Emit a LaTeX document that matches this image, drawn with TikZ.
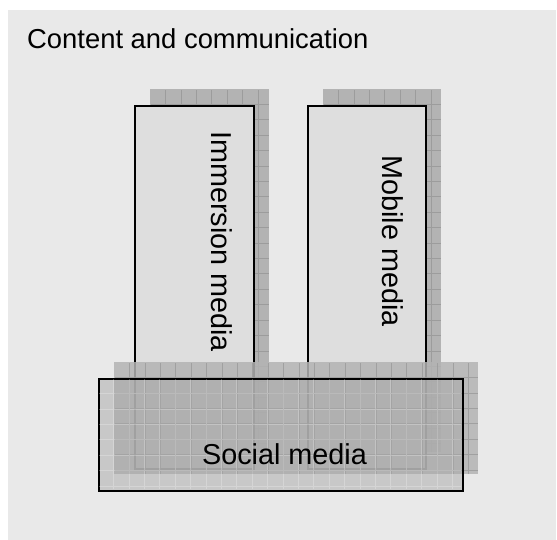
\documentclass[tikz,border=0pt]{standalone}
\usepackage{fontspec}
\setmainfont{Liberation Sans}
\usepackage{tikz}

\definecolor{bggray}{HTML}{E9E9E9}
\definecolor{boxgray}{HTML}{DEDEDE}
\definecolor{shadowgray}{HTML}{B3B3B3}
\definecolor{gridgray}{HTML}{9C9C9C}
\definecolor{socialgray}{HTML}{A8A8A8}

\tikzset{
  shadowbox/.style = {rectangle,
      fill = shadowgray,
      inner sep = 0pt,
      anchor = north west},
  shadowgrid/.style = {draw = gridgray,
      line width = 0.6pt},
  mediabox/.style = {rectangle,
      draw = black,
      line width = 2pt,
      fill = boxgray,
      inner sep = 0pt,
      anchor = north west},
  medialabel/.style = {inner sep = 0pt,
      font = \fontsize{28.8}{34}\selectfont},
}

\begin{document}
\begin{tikzpicture}[x=1pt, y=1pt]
\useasboundingbox (0,0) rectangle (557,-540);

% background
\node[rectangle,
    fill = bggray,
    inner sep = 0pt,
    anchor = north west,
    minimum width = 548,
    minimum height = 530] (bg) at (8,-10) {};

\node[anchor = base west,
    inner sep = 0pt,
    font = \fontsize{27.4}{33}\selectfont] (title) at (27,-49) {Content and communication};

% first column
\node[shadowbox,
    minimum width = 119,
    minimum height = 363] (immshadow) at (150,-89) {};
\draw[shadowgrid, shift={(150,-89)}] (1,-363) grid[step=15.4] (119,-1);

\node[mediabox,
    minimum width = 119,
    minimum height = 363] (immersion) at (134,-105) {};
\node[medialabel, rotate=-90] (immtext) at (221.5,-241.5) {Immersion media};

% second column
\node[shadowbox,
    minimum width = 118,
    minimum height = 363] (mobshadow) at (323,-89) {};
\draw[shadowgrid, shift={(323,-89)}] (1,-363) grid[step=15.4] (118,-1);

\node[mediabox,
    minimum width = 118,
    minimum height = 363] (mobile) at (307,-105) {};
\node[medialabel, rotate=-90] (mobtext) at (393,-241) {Mobile media};

% bottom bar
\node[shadowbox,
    opacity = 0.85,
    minimum width = 364,
    minimum height = 112] (socshadow) at (114,-362) {};
\draw[shadowgrid, opacity=0.85, shift={(114,-362)}] (1,-112) grid[step=15.4] (364,-1);

\node[rectangle,
    draw = black,
    line width = 2pt,
    fill = socialgray,
    fill opacity = 0.5,
    inner sep = 0pt,
    anchor = north west,
    minimum width = 364,
    minimum height = 112] (social) at (98,-378) {};
\draw[draw=white, opacity=0.25, line width=0.6pt, shift={(98,-378)}] (1,-111) grid[step=15.4] (363,-1);

\node[medialabel, anchor=base] (soctext) at (284.5,-464) {Social media};

\end{tikzpicture}
\end{document}
